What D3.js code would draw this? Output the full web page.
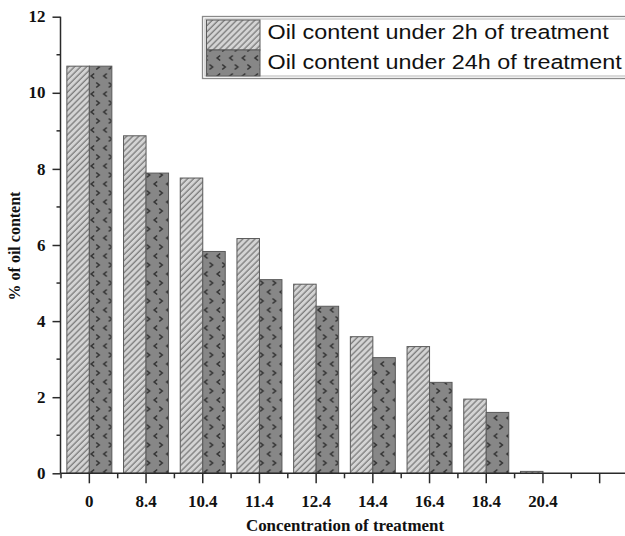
<!DOCTYPE html>
<html>
<head>
<meta charset="utf-8">
<script src="https://cdn.jsdelivr.net/npm/d3@7"></script>
<style>
  html, body { margin: 0; padding: 0; background: #fff; overflow: hidden; }
  svg { display: block; }
</style>
</head>
<body>
<script>
// Oil content (%) after treatment at each concentration
const categories = ["0", "8.4", "10.4", "11.4", "12.4", "14.4", "16.4", "18.4", "20.4"];
const oil2h  = [10.7, 8.87, 7.76, 6.17, 4.97, 3.59, 3.33, 1.95, 0.05];
const oil24h = [10.7, 7.89, 5.83, 5.09, 4.39, 3.04, 2.39, 1.60, 0];
const seriesNames = ["Oil content under 2h of treatment", "Oil content under 24h of treatment"];
const yTicks = [0, 2, 4, 6, 8, 10, 12];
const yMinorTicks = [1, 3, 5, 7, 9, 11];
const slotCount = 10; // axis keeps one empty slot after the last concentration

const W = 625, H = 536;
const svg = d3.select("body").append("svg").attr("width", W).attr("height", H);

const serif = "'Liberation Serif', 'Times New Roman', serif";
const sans = "'Liberation Sans', Arial, sans-serif";
const stretch = 1.06;

// fill patterns
const defs = svg.append("defs");
const hatch = defs.append("pattern").attr("id", "hatch")
  .attr("patternUnits", "userSpaceOnUse").attr("width", 4.3).attr("height", 4.3)
  .attr("patternTransform", "rotate(45)");
hatch.append("rect").attr("width", 4.3).attr("height", 4.3).attr("fill", "#d4d4d4");
hatch.append("line").attr("x1", 1).attr("x2", 1).attr("y1", 0).attr("y2", 4.3)
  .attr("stroke", "#727272").attr("stroke-width", 1.2);

const dots = defs.append("pattern").attr("id", "dots")
  .attr("patternUnits", "userSpaceOnUse").attr("width", 12.6).attr("height", 18);
dots.append("rect").attr("width", 12.6).attr("height", 18).attr("fill", "#878787");
const markColor = "#333";
dots.append("path").attr("d", "M6,1.5 L3,4 L6,6.5").attr("fill", "none")
  .attr("stroke", markColor).attr("stroke-width", 1.6);
dots.append("path").attr("d", "M8,10.5 L11,13 L8,15.5").attr("fill", "none")
  .attr("stroke", markColor).attr("stroke-width", 1.6);

// scales
const x = d3.scaleBand().domain(d3.range(slotCount)).range([61, 61 + 56.7 * slotCount])
  .paddingInner(0).paddingOuter(0);
const x1 = d3.scaleBand().domain([0, 1]).range([0, x.bandwidth()]).paddingInner(0).paddingOuter(0.26);
const y = d3.scaleLinear().domain([0, 12]).range([473.3, 16.7]);

const axisColor = "#2a2a2a";

// bars
const fills = ["url(#hatch)", "url(#dots)"];
const series = [oil2h, oil24h];
series.forEach((vals, s) => {
  svg.append("g").selectAll("rect").data(vals.map((v, i) => ({ v, i })).filter(d => d.v > 0))
    .join("rect")
    .attr("x", d => x(d.i) + x1(s))
    .attr("width", x1.bandwidth())
    .attr("y", d => y(d.v))
    .attr("height", d => y(0) - y(d.v))
    .attr("fill", fills[s])
    .attr("stroke", "#5a5a5a").attr("stroke-width", 1);
});

// y axis
const yAxis = svg.append("g").attr("transform", "translate(60.5,0)")
  .call(d3.axisLeft(y).tickValues(yTicks).tickSize(8).tickPadding(7).tickFormat(d3.format("d")));
yAxis.select(".domain").attr("d", `M0,${y(12)}V${y(0)}`);
yAxis.selectAll(".minor").data(yMinorTicks).join("line").attr("class", "minor")
  .attr("x1", -4).attr("x2", 0).attr("y1", d => y(d)).attr("y2", d => y(d));

// x axis
const xAxis = svg.append("g").attr("transform", `translate(0,${y(0)})`)
  .call(d3.axisBottom(x).tickSize(10).tickPadding(12).tickFormat(i => categories[i] || ""));
xAxis.select(".domain").attr("d", `M60.5,0H${W + 5}`);
xAxis.selectAll(".minor").data(d3.range(slotCount + 1)).join("line").attr("class", "minor")
  .attr("x1", k => x.range()[0] + x.step() * k).attr("x2", k => x.range()[0] + x.step() * k)
  .attr("y1", 0).attr("y2", 5);

[yAxis, xAxis].forEach(g => {
  g.selectAll(".domain, line").attr("stroke", axisColor).attr("stroke-width", 1.5);
  g.selectAll("text").attr("fill", "#111").style("font-family", serif)
    .style("font-weight", "bold").style("font-size", "16px");
});
yAxis.selectAll(".tick text").each(function () {
  const t = d3.select(this);
  t.attr("x", +t.attr("x") / stretch).attr("transform", `scale(${stretch},1)`);
});
xAxis.selectAll(".tick text").attr("transform", `scale(${stretch},1)`);

// axis titles
svg.append("text").attr("transform", `translate(345,531) scale(1.06,1)`)
  .attr("text-anchor", "middle").style("font-family", serif).style("font-weight", "bold")
  .style("font-size", "16px").attr("fill", "#111").text("Concentration of treatment");
svg.append("text").attr("transform", "translate(20,246) rotate(-90)")
  .attr("text-anchor", "middle").style("font-family", serif).style("font-weight", "bold")
  .style("font-size", "16px").attr("fill", "#111").text("% of oil content");

// legend
const lg = svg.append("g");
lg.append("rect").attr("x", 202.5).attr("y", 16.5).attr("width", 450).attr("height", 62)
  .attr("fill", "#fff").attr("stroke", "#8a8a8a").attr("stroke-width", 1.3);
lg.append("rect").attr("x", 205).attr("y", 19).attr("width", 445).attr("height", 57)
  .attr("fill", "none").attr("stroke", "#b5b5b5").attr("stroke-width", 1);
const rows = [{ y: 20, h: 30, base: 38.5 }, { y: 50, h: 26, base: 68.5 }];
rows.forEach((r, s) => {
  lg.append("rect").attr("x", 206.5).attr("y", r.y).attr("width", 53.5).attr("height", r.h)
    .attr("fill", fills[s]).attr("stroke", "#5a5a5a").attr("stroke-width", 1);
  lg.append("text").attr("transform", `translate(267.5,${r.base}) scale(1.198,1)`)
    .style("font-family", sans).style("font-size", "19.5px").attr("fill", "#111")
    .text(seriesNames[s]);
});
</script>
</body>
</html>
